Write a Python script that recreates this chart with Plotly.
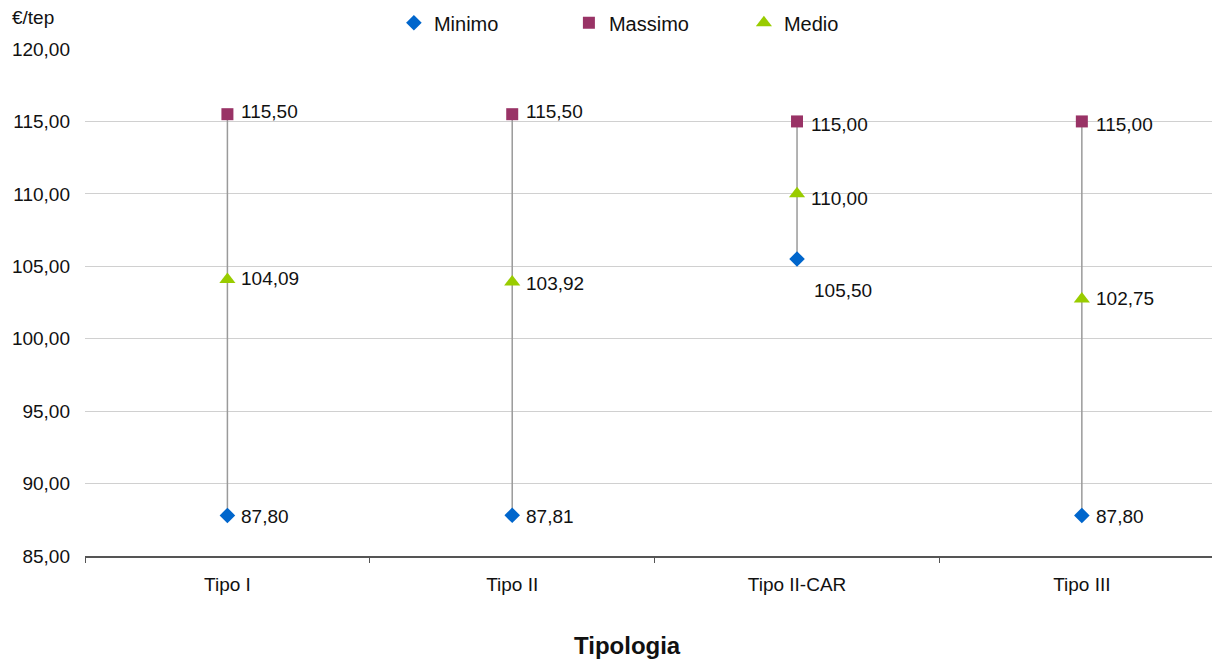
import plotly.graph_objects as go

# Categorie e valori (€/tep)
categorie = ["Tipo I", "Tipo II", "Tipo II-CAR", "Tipo III"]
minimo = [87.80, 87.81, 105.50, 87.80]
massimo = [115.50, 115.50, 115.00, 115.00]
medio = [104.09, 103.92, 110.00, 102.75]

y_tick_vals = [85, 90, 95, 100, 105, 110, 115, 120]

FONT = "Liberation Sans, Arial, sans-serif"
pos = list(range(len(categorie)))

# Area del grafico in pixel (per posizionare i testi in coordinate paper)
W, H = 1212, 660
ML, MR, MT, MB = 85, 0, 49, 104
PW, PH = W - ML - MR, H - MT - MB


def px_to_paper(px, py):
    return (px - ML) / PW, (H - MB - py) / PH


fig = go.Figure()

# Segmenti verticali min-max per ciascuna tipologia
seg_x, seg_y = [], []
for i in pos:
    seg_x += [i, i, None]
    seg_y += [minimo[i], massimo[i], None]
fig.add_trace(go.Scatter(
    x=seg_x, y=seg_y, mode="lines",
    line=dict(color="#9a9a9a", width=1.5),
    showlegend=False, hoverinfo="skip",
))

series = [
    ("Minimo", minimo, "diamond", "#0066cc", 12),
    ("Massimo", massimo, "square", "#993366", 12),
    ("Medio", medio, "triangle-up", "#99cc00", 14),
]
for name, vals, symbol, color, size in series:
    fig.add_trace(go.Scatter(
        x=pos, y=vals, mode="markers", name=name,
        marker=dict(symbol=symbol, color=color, size=size, line=dict(width=0)),
    ))


# Etichette dei valori (spostamenti in pixel rispetto al marcatore)
def fmt(v):
    return f"{v:.2f}".replace(".", ",")


label_shift = {
    "Minimo": [(12, -1), (12, -1), (15, -31), (12, -1)],
    "Massimo": [(12, 3), (12, 3), (12, -3), (12, -3)],
    "Medio": [(12, 1), (12, -2), (12, -5), (12, 0)],
}
for name, vals, *_ in series:
    for i, v in enumerate(vals):
        dx, dy = label_shift[name][i]
        fig.add_annotation(
            x=i, y=v, text=fmt(v), showarrow=False,
            xanchor="left", yanchor="middle", xshift=dx, yshift=dy,
            font=dict(family=FONT, size=19, color="#111111"),
        )

# Unità di misura in alto a sinistra
ux, uy = px_to_paper(10, 18)
fig.add_annotation(
    xref="paper", yref="paper", x=ux, y=uy,
    text="€/tep", showarrow=False, xanchor="left", yanchor="middle",
    font=dict(family=FONT, size=19, color="#111111"),
)

# Titolo dell'asse delle categorie
tx, ty = px_to_paper(627, 645)
fig.add_annotation(
    xref="paper", yref="paper", x=tx, y=ty,
    text="<b>Tipologia</b>", showarrow=False, xanchor="center", yanchor="middle",
    font=dict(family=FONT, size=24, color="#111111"),
)

fig.update_layout(
    width=W, height=H,
    margin=dict(l=ML, r=MR, t=MT, b=MB, autoexpand=False),
    paper_bgcolor="white", plot_bgcolor="white",
    separators=",.",
    font=dict(family=FONT, size=19, color="#111111"),
    legend=dict(
        orientation="h", xref="container", yref="container",
        x=0.325, y=0.995, xanchor="left", yanchor="top",
        entrywidth=130, entrywidthmode="pixels",
        font=dict(family=FONT, size=20, color="#111111"),
    ),
    xaxis=dict(
        range=[-0.5, 3.457], tickvals=pos, ticktext=categorie,
        ticks="", showgrid=False, zeroline=False,
        showline=True, linecolor="#555555", linewidth=1.5,
        ticklabelstandoff=10,
        tickfont=dict(family=FONT, size=19, color="#111111"),
        minor=dict(tickvals=[-0.5, 0.5, 1.5, 2.5], ticks="outside",
                   ticklen=5, tickcolor="#555555", showgrid=False),
    ),
    yaxis=dict(
        range=[85, 120], tickvals=y_tick_vals, tickformat=".2f",
        showgrid=True, gridcolor="#d0d0d0", gridwidth=1,
        zeroline=False, showline=False, ticks="",
        ticklabelstandoff=14,
        tickfont=dict(family=FONT, size=19, color="#111111"),
    ),
)

fig.write_html("out.html")
